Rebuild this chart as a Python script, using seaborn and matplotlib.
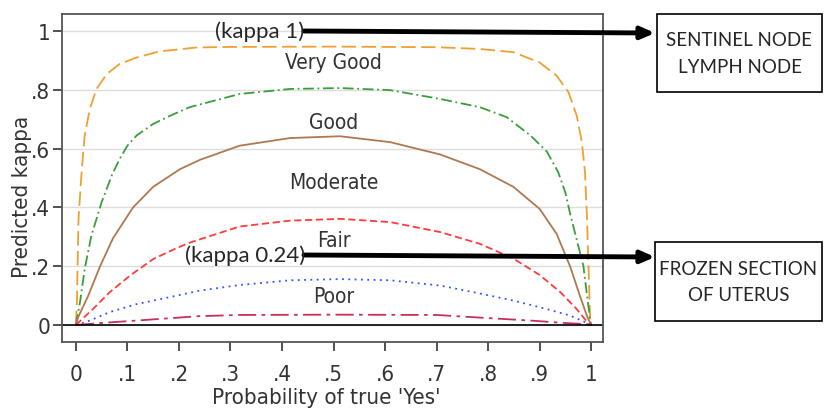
import matplotlib
matplotlib.use('Agg')
import matplotlib.pyplot as plt
from matplotlib.patches import Rectangle
import seaborn as sns
import pandas as pd

# values: prevalence vs predicted kappa
vg_x = [0, 0.002, 0.005, 0.011, 0.017, 0.027, 0.040, 0.060, 0.085, 0.118, 0.163, 0.234, 0.3, 0.5,
        0.7, 0.784, 0.849, 0.90, 0.933, 0.956, 0.972, 0.982, 0.988, 0.992, 0.995, 0.998, 1.0]
vg_y = [0, 0.08, 0.36, 0.52, 0.644, 0.735, 0.803, 0.854, 0.888, 0.910, 0.931, 0.944, 0.946, 0.947,
        0.945, 0.939, 0.928, 0.893, 0.848, 0.792, 0.712, 0.622, 0.52, 0.36, 0.19, 0.02, 0]

good_x = [0, 0.008, 0.017, 0.030, 0.050, 0.070, 0.085, 0.100, 0.118, 0.150, 0.183, 0.221, 0.318, 0.416,
          0.513, 0.61, 0.707, 0.784, 0.836, 0.882, 0.914, 0.936, 0.950, 0.959, 0.972, 0.985, 0.992,
          0.998, 1.0]
good_y = [0, 0.078, 0.19, 0.304, 0.418, 0.51, 0.565, 0.61, 0.645, 0.684, 0.712, 0.741, 0.786, 0.803,
          0.806, 0.799, 0.769, 0.741, 0.707, 0.645, 0.59, 0.52, 0.45, 0.38, 0.29, 0.2, 0.1, 0.02, 0]

mod_x = [0, 0.004, 0.024, 0.047, 0.072, 0.111, 0.150, 0.202, 0.241, 0.318, 0.416, 0.513, 0.61, 0.707,
         0.784, 0.849, 0.90, 0.933, 0.959, 0.979, 0.992, 1.0]
mod_y = [0, 0.025, 0.10, 0.20, 0.295, 0.40, 0.47, 0.53, 0.562, 0.61, 0.636, 0.642, 0.622, 0.58,
         0.53, 0.47, 0.395, 0.31, 0.2, 0.095, 0.03, 0]

fair_x = [0, 0.033, 0.066, 0.105, 0.150, 0.196, 0.221, 0.318, 0.416, 0.513, 0.61, 0.707, 0.784,
          0.849, 0.90, 0.94, 0.972, 0.99, 1.0]
fair_y = [0, 0.054, 0.112, 0.168, 0.224, 0.262, 0.28, 0.335, 0.355, 0.361, 0.35, 0.316, 0.276,
          0.226, 0.17, 0.112, 0.054, 0.015, 0]

poor_x = [0, 0.027, 0.066, 0.118, 0.183, 0.241, 0.318, 0.416, 0.513, 0.61, 0.707, 0.784, 0.849,
          0.914, 0.959, 0.985, 1.0]
poor_y = [0, 0.015, 0.044, 0.071, 0.095, 0.117, 0.136, 0.152, 0.156, 0.152, 0.134, 0.107, 0.083,
          0.054, 0.032, 0.012, 0]

slight_x = [0, 0.06, 0.118, 0.24, 0.318, 0.5, 0.7, 0.784, 0.882, 0.946, 0.99, 1.0]
slight_y = [0, 0.008, 0.015, 0.03, 0.034, 0.035, 0.034, 0.025, 0.015, 0.007, 0.003, 0]

band_labels = ['Very Good', 'Good', 'Moderate', 'Fair', 'Poor']
band_y = [0.895, 0.69, 0.486, 0.29, 0.10]

xticks = [0, .1, .2, .3, .4, .5, .6, .7, .8, .9, 1]
xtick_labels = ['0', '.1', '.2', '.3', '.4', '.5', '.6', '.7', '.8', '.9', '1']
yticks = [0, .2, .4, .6, .8, 1]
ytick_labels = ['0', '.2', '.4', '.6', '.8', '1']

sns.set_style('white')
plt.rcParams['font.family'] = ['DejaVu Sans']
plt.rcParams['font.stretch'] = 'condensed'

fig = plt.figure(figsize=(8.24, 4.10), dpi=100)
ax = fig.add_axes([62 / 824, 1 - 343 / 410, 541 / 824, 328 / 410])

curves = [
    (vg_x, vg_y, '#F0A030', (0, (8, 3))),
    (good_x, good_y, '#3A9E3A', (0, (6, 2, 1, 2))),
    (mod_x, mod_y, '#B07850', '-'),
    (fair_x, fair_y, '#FF3B3B', (0, (4, 2))),
    (poor_x, poor_y, '#3050FF', (0, (1, 2.5))),
    (slight_x, slight_y, '#C8305A', (0, (10, 3, 2, 3))),
]
for xs, ys, col, ls in curves:
    d = pd.DataFrame({'p': xs, 'k': ys})
    sns.lineplot(data=d, x='p', y='k', ax=ax, color=col, linestyle=ls, linewidth=1.3)

for lab, yy in zip(band_labels, band_y):
    ax.text(0.5, yy, lab, ha='center', va='center', fontsize=15, color='#333333')

ax.axhline(0, color='black', lw=1.2)
ax.set_xlim(-0.027, 1.023)
ax.set_ylim(-0.058, 1.058)
ax.set_xticks(xticks)
ax.set_xticklabels(xtick_labels)
ax.set_yticks(yticks)
ax.set_yticklabels(ytick_labels)
ax.yaxis.grid(True, color='#DDDDDD', lw=1)
ax.tick_params(axis='both', labelsize=16, length=6.5, width=1.2, color='#333333',
               direction='out', bottom=True, left=True, labelcolor='#333333')
ax.tick_params(axis='x', pad=9)
ax.tick_params(axis='y', pad=2)
for s in ax.spines.values():
    s.set_color('#555555')
    s.set_linewidth(1.3)
ax.set_xlabel("Probability of true 'Yes'", fontsize=16, color='#333333')
ax.set_ylabel('Predicted kappa', fontsize=16, color='#333333')
ax.xaxis.set_label_coords(0.488, -0.168)
ax.yaxis.set_label_coords(-0.074, 0.445)
ax.xaxis.label.set_va('center')
ax.yaxis.label.set_va('center')

# annotation arrows and boxes
fig.text(260 / 824, 1 - 32 / 410, '(kappa 1)', ha='center', va='center',
         fontsize=16, family='Lato', stretch='normal')
fig.text(245 / 824, 1 - 256 / 410, '(kappa 0.24)', ha='center', va='center',
         fontsize=16, family='Lato', stretch='normal')
for y0, y1 in [(32, 34), (256, 258)]:
    ax.annotate('', xy=(655 / 824, 1 - y1 / 410), xycoords='figure fraction',
                xytext=(304 / 824, 1 - y0 / 410), textcoords='figure fraction',
                arrowprops=dict(arrowstyle='-|>,head_length=0.8,head_width=0.35',
                                color='black', lw=3.5, shrinkA=0, shrinkB=0),
                annotation_clip=False)

for (x0, y0, w, h), txt in [((657, 15, 165, 78), 'SENTINEL NODE\nLYMPH NODE'),
                            ((655, 243, 167, 79), 'FROZEN SECTION\nOF UTERUS')]:
    fig.add_artist(Rectangle((x0 / 824, 1 - (y0 + h) / 410), w / 824, h / 410,
                             transform=fig.transFigure, fc='white', ec='black', lw=1.2))
    fig.text((x0 + w / 2) / 824, 1 - (y0 + h / 2) / 410, txt, ha='center', va='center',
             fontsize=13.5, family='Lato', stretch='normal', linespacing=1.65)

fig.savefig('out.png', dpi=100)
